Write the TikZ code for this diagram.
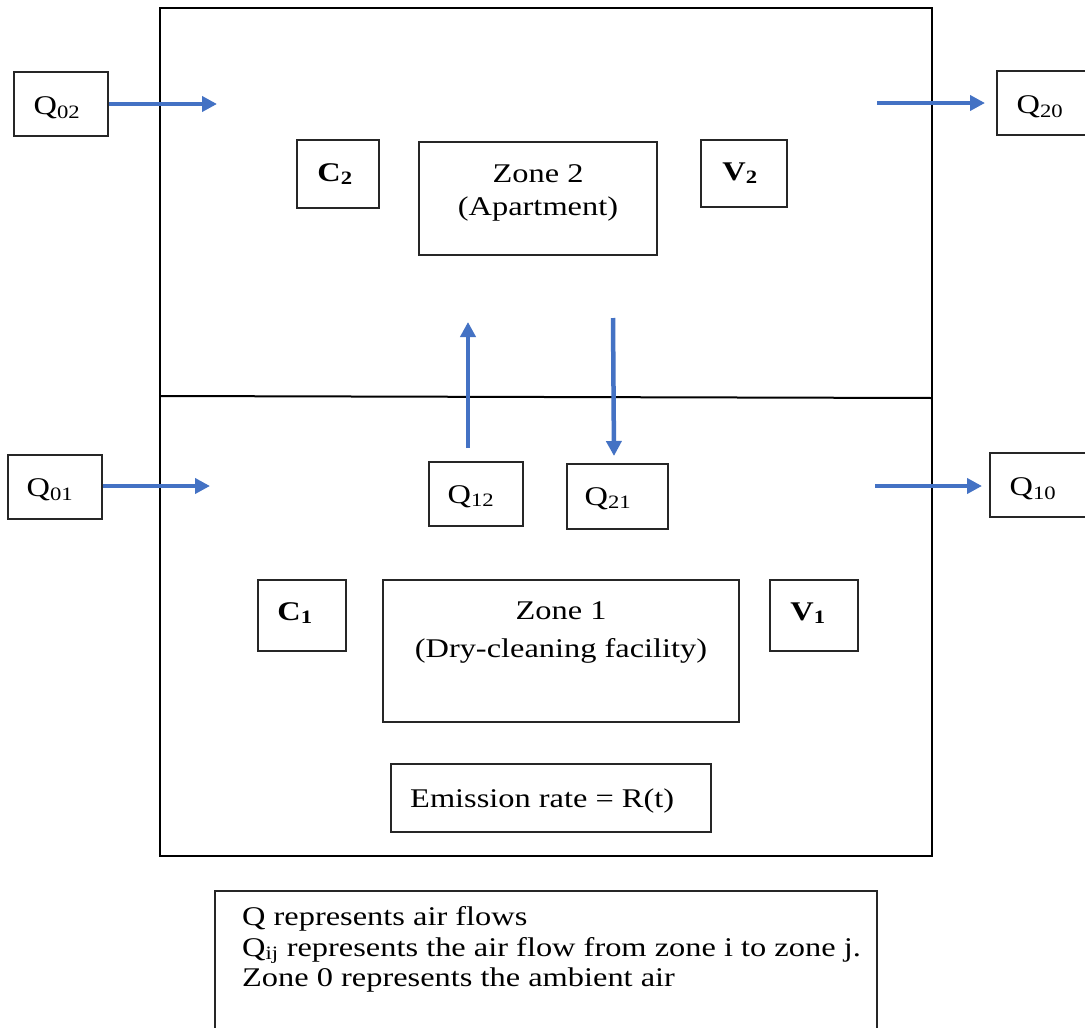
\documentclass[tikz,border=0pt]{standalone}
\usepackage{fontspec}
\setmainfont[FakeStretch=1.2]{Liberation Serif}
\usetikzlibrary{arrows.meta}
\begin{document}
\begin{tikzpicture}[x=1pt,y=-1pt,
  font=\fontsize{27}{30}\selectfont,
  wall/.style={draw=black,line width=2.4pt},
  tag/.style={draw=black!85,line width=1.2pt,rectangle,inner sep=0pt},
  flow/.style={draw={rgb,255:red,68;green,114;blue,196},line width=4.5pt,
    -{Triangle[length=15pt,width=15pt]}},
  lbl/.style={inner sep=0pt,anchor=base}
]
\useasboundingbox (0,0) rectangle (1085,1028);
\fill[white] (0,0) rectangle (1085,1028);

% building envelope and floor between the two zones
\draw[wall] (160,8) rectangle (932,856);
\coordinate (fl) at (160,396);
\coordinate (fr) at (932,398);
\draw[line width=2pt] (fl) -- (fr);

% helper: a rectangle node spanning given corners
\newcommand{\boxat}[5]{\node[tag,minimum width=#4-#2,minimum height=#5-#3] (#1) at ({(#2+#4)/2},{(#3+#5)/2}) {};}

% ambient inflow / outflow tags
\boxat{q02}{14}{72}{108}{136}
\node[lbl] (tq02) at (57,114) {Q\textsubscript{02}};
\boxat{q20}{997}{71}{1090}{135}
\node[lbl] (tq20) at (1040,113) {Q\textsubscript{20}};
\boxat{q01}{8}{455}{102}{519}
\node[lbl] (tq01) at (50,496) {Q\textsubscript{01}};
\boxat{q10}{990}{453}{1090}{517}
\node[lbl] (tq10) at (1033,495) {Q\textsubscript{10}};

% interzonal flow tags
\boxat{q12}{429}{462}{523}{526}
\node[lbl] (tq12) at (471,503) {Q\textsubscript{12}};
\boxat{q21}{567}{464}{668}{529}
\node[lbl] (tq21) at (608,505) {Q\textsubscript{21}};

% zone 2 (upper)
\boxat{c2}{297}{140}{379}{208}
\node[lbl] (tc2) at (335,181) {\textbf{C\textsubscript{2}}};
\boxat{z2}{419}{142}{657}{255}
\node[lbl] (tz2a) at (538,182) {Zone 2};
\node[lbl] (tz2b) at (538,215) {(Apartment)};
\boxat{v2}{701}{140}{787}{207}
\node[lbl] (tv2) at (740,180) {\textbf{V\textsubscript{2}}};

% zone 1 (lower)
\boxat{c1}{258}{580}{346}{651}
\node[lbl] (tc1) at (295,620) {\textbf{C\textsubscript{1}}};
\boxat{z1}{383}{580}{739}{722}
\node[lbl] (tz1a) at (561,619) {Zone 1};
\node[lbl] (tz1b) at (561,657) {(Dry-cleaning facility)};
\boxat{v1}{770}{580}{858}{651}
\node[lbl] (tv1) at (808,620) {\textbf{V\textsubscript{1}}};

\boxat{em}{391}{764}{711}{832}
\node[lbl,anchor=base west] (tem) at (410,807) {Emission rate = R(t)};

% legend
\boxat{leg}{215}{891}{877}{1040}
\node[lbl,anchor=base west] (l1) at (242,925) {Q represents air flows};
\node[lbl,anchor=base west] (l2) at (242,956) {Q\textsubscript{ij} represents the air flow from zone i to zone j.};
\node[lbl,anchor=base west] (l3) at (242,986) {Zone 0 represents the ambient air};

% air-flow arrows
\coordinate (a02) at (217,104);
\coordinate (b20) at (877,103);
\coordinate (a20) at (985,103);
\coordinate (a01) at (210,486);
\coordinate (b10) at (875,486);
\coordinate (a10) at (982,486);
\coordinate (b12) at (468,448);
\coordinate (a12) at (468,322);
\coordinate (b21) at (613,318);
\coordinate (a21) at (614,456);
\draw[flow] (q02.east |- a02) -- (a02);
\draw[flow] (b20) -- (a20);
\draw[flow] (q01.east |- a01) -- (a01);
\draw[flow] (b10) -- (a10);
\draw[flow] (b12) -- (a12);
\draw[flow] (b21) -- (a21);
\end{tikzpicture}
\end{document}
